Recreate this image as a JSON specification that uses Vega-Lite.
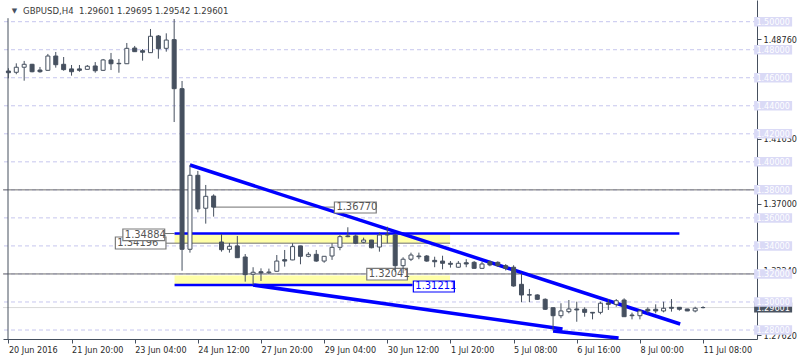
{
  "$schema": "https://vega.github.io/schema/vega-lite/v6.json",
  "width": 754,
  "height": 339,
  "autosize": {"type": "none"},
  "padding": {"left": 3, "top": 0, "right": 43, "bottom": 21},
  "background": "white",
  "config": {"view": {"stroke": null}, "font": "DejaVu Sans Condensed, Liberation Sans Narrow, Liberation Sans"},
  "datasets": {
    "candles": [
      {"i":0,"o":1.4648,"h":1.4668,"l":1.4596,"c":1.4636},
      {"i":1,"o":1.4639,"h":1.4703,"l":1.4625,"c":1.4675},
      {"i":2,"o":1.4675,"h":1.4720,"l":1.4579,"c":1.4696},
      {"i":3,"o":1.4696,"h":1.4699,"l":1.4639,"c":1.4643},
      {"i":4,"o":1.4655,"h":1.4677,"l":1.4636,"c":1.4643},
      {"i":5,"o":1.4653,"h":1.4770,"l":1.4650,"c":1.4755},
      {"i":6,"o":1.4755,"h":1.4784,"l":1.4672,"c":1.4693},
      {"i":7,"o":1.4696,"h":1.4748,"l":1.4650,"c":1.4658},
      {"i":8,"o":1.4663,"h":1.4691,"l":1.4615,"c":1.4643},
      {"i":9,"o":1.4663,"h":1.4691,"l":1.4643,"c":1.4653},
      {"i":10,"o":1.4660,"h":1.4691,"l":1.4659,"c":1.4682},
      {"i":11,"o":1.4684,"h":1.4712,"l":1.4636,"c":1.4650},
      {"i":12,"o":1.4653,"h":1.4734,"l":1.4648,"c":1.4727},
      {"i":13,"o":1.4727,"h":1.4777,"l":1.4655,"c":1.4700},
      {"i":14,"o":1.4703,"h":1.4734,"l":1.4636,"c":1.4700},
      {"i":15,"o":1.4700,"h":1.4848,"l":1.4699,"c":1.4810},
      {"i":16,"o":1.4812,"h":1.4827,"l":1.4785,"c":1.4786},
      {"i":17,"o":1.4793,"h":1.4805,"l":1.4722,"c":1.4782},
      {"i":18,"o":1.4779,"h":1.4948,"l":1.4777,"c":1.4896},
      {"i":19,"o":1.4898,"h":1.4905,"l":1.4736,"c":1.4807},
      {"i":20,"o":1.4810,"h":1.4917,"l":1.4786,"c":1.4869},
      {"i":21,"o":1.4872,"h":1.5019,"l":1.4284,"c":1.4522},
      {"i":22,"o":1.4522,"h":1.4577,"l":1.3223,"c":1.3376},
      {"i":23,"o":1.3376,"h":1.3978,"l":1.3352,"c":1.3904},
      {"i":24,"o":1.3904,"h":1.3935,"l":1.3640,"c":1.3664},
      {"i":25,"o":1.3669,"h":1.3835,"l":1.3559,"c":1.3754},
      {"i":26,"o":1.3756,"h":1.3768,"l":1.3609,"c":1.3677},
      {"i":27,"o":1.3428,"h":1.3485,"l":1.3359,"c":1.3373},
      {"i":28,"o":1.3376,"h":1.3421,"l":1.3352,"c":1.3397},
      {"i":29,"o":1.3400,"h":1.3471,"l":1.3315,"c":1.3316},
      {"i":30,"o":1.3321,"h":1.3342,"l":1.3145,"c":1.3195},
      {"i":31,"o":1.3198,"h":1.3248,"l":1.3121,"c":1.3212},
      {"i":32,"o":1.3216,"h":1.3240,"l":1.3150,"c":1.3207},
      {"i":33,"o":1.3209,"h":1.3238,"l":1.3200,"c":1.3214},
      {"i":34,"o":1.3219,"h":1.3335,"l":1.3217,"c":1.3292},
      {"i":35,"o":1.3302,"h":1.3371,"l":1.3252,"c":1.3292},
      {"i":36,"o":1.3300,"h":1.3419,"l":1.3298,"c":1.3395},
      {"i":37,"o":1.3400,"h":1.3401,"l":1.3269,"c":1.3326},
      {"i":38,"o":1.3326,"h":1.3355,"l":1.3319,"c":1.3340},
      {"i":39,"o":1.3340,"h":1.3371,"l":1.3287,"c":1.3292},
      {"i":40,"o":1.3292,"h":1.3327,"l":1.3280,"c":1.3326},
      {"i":41,"o":1.3328,"h":1.3419,"l":1.3300,"c":1.3390},
      {"i":42,"o":1.3390,"h":1.3478,"l":1.3369,"c":1.3466},
      {"i":43,"o":1.3471,"h":1.3533,"l":1.3462,"c":1.3466},
      {"i":44,"o":1.3471,"h":1.3483,"l":1.3412,"c":1.3419},
      {"i":45,"o":1.3426,"h":1.3459,"l":1.3419,"c":1.3442},
      {"i":46,"o":1.3442,"h":1.3443,"l":1.3383,"c":1.3387},
      {"i":47,"o":1.3392,"h":1.3497,"l":1.3359,"c":1.3478},
      {"i":48,"o":1.3483,"h":1.3537,"l":1.3419,"c":1.3478},
      {"i":49,"o":1.3478,"h":1.3488,"l":1.3215,"c":1.3259},
      {"i":50,"o":1.3259,"h":1.3319,"l":1.32041,"c":1.3305},
      {"i":51,"o":1.3305,"h":1.3352,"l":1.3292,"c":1.3335},
      {"i":52,"o":1.3323,"h":1.3352,"l":1.3305,"c":1.3328},
      {"i":53,"o":1.3328,"h":1.3335,"l":1.3287,"c":1.3292},
      {"i":54,"o":1.3297,"h":1.3323,"l":1.3248,"c":1.3287},
      {"i":55,"o":1.3292,"h":1.3330,"l":1.3233,"c":1.3276},
      {"i":56,"o":1.3276,"h":1.3292,"l":1.3245,"c":1.3269},
      {"i":57,"o":1.3248,"h":1.3292,"l":1.3245,"c":1.3276},
      {"i":58,"o":1.3280,"h":1.3305,"l":1.3248,"c":1.3271},
      {"i":59,"o":1.3283,"h":1.3292,"l":1.3239,"c":1.3240},
      {"i":60,"o":1.3240,"h":1.3287,"l":1.3235,"c":1.3271},
      {"i":61,"o":1.3287,"h":1.3295,"l":1.3255,"c":1.3264},
      {"i":62,"o":1.3283,"h":1.3290,"l":1.3250,"c":1.3259},
      {"i":63,"o":1.3259,"h":1.3270,"l":1.3225,"c":1.3240},
      {"i":64,"o":1.3248,"h":1.3262,"l":1.3109,"c":1.3114},
      {"i":65,"o":1.3126,"h":1.3205,"l":1.2998,"c":1.3050},
      {"i":66,"o":1.3052,"h":1.3093,"l":1.2999,"c":1.3049},
      {"i":67,"o":1.3050,"h":1.3055,"l":1.3014,"c":1.3019},
      {"i":68,"o":1.3019,"h":1.3026,"l":1.2943,"c":1.2948},
      {"i":69,"o":1.2959,"h":1.2962,"l":1.2796,"c":1.2902},
      {"i":70,"o":1.2902,"h":1.2991,"l":1.2884,"c":1.2936},
      {"i":71,"o":1.2931,"h":1.3014,"l":1.2919,"c":1.2950},
      {"i":72,"o":1.2950,"h":1.3002,"l":1.2859,"c":1.2943},
      {"i":73,"o":1.2948,"h":1.2962,"l":1.2895,"c":1.2926},
      {"i":74,"o":1.2926,"h":1.2928,"l":1.2876,"c":1.2921},
      {"i":75,"o":1.2926,"h":1.3002,"l":1.2912,"c":1.2991},
      {"i":76,"o":1.2993,"h":1.3021,"l":1.2943,"c":1.2983},
      {"i":77,"o":1.2983,"h":1.3021,"l":1.2966,"c":1.3009},
      {"i":78,"o":1.3014,"h":1.3026,"l":1.2894,"c":1.2895},
      {"i":79,"o":1.2907,"h":1.2924,"l":1.2876,"c":1.2902},
      {"i":80,"o":1.2902,"h":1.2948,"l":1.2876,"c":1.2936},
      {"i":81,"o":1.2948,"h":1.2962,"l":1.2919,"c":1.2936},
      {"i":82,"o":1.2948,"h":1.2983,"l":1.2919,"c":1.2936},
      {"i":83,"o":1.2936,"h":1.3002,"l":1.2926,"c":1.2955},
      {"i":84,"o":1.2962,"h":1.3021,"l":1.2931,"c":1.2955},
      {"i":85,"o":1.2962,"h":1.2963,"l":1.2938,"c":1.2948},
      {"i":86,"o":1.2950,"h":1.2951,"l":1.2935,"c":1.2936},
      {"i":87,"o":1.2936,"h":1.2966,"l":1.2926,"c":1.2955},
      {"i":88,"o":1.29601,"h":1.29695,"l":1.29542,"c":1.29601}
    ],
    "zones": [
      {"x1":21.05,"x2":55.95,"y1":1.34884,"y2":1.34196},
      {"x1":21.05,"x2":55.95,"y1":1.3189,"y2":1.3121}
    ],
    "levels": [
      {"v":1.28},{"v":1.30},{"v":1.32},{"v":1.34},{"v":1.36},{"v":1.38},
      {"v":1.40},{"v":1.42},{"v":1.44},{"v":1.46},{"v":1.48},{"v":1.50}
    ],
    "solid": [{"v":1.38},{"v":1.32}],
    "current": [{"v":1.29601}],
    "greylines": [
      {"x1":26,"x2":41.3,"y":1.3677},
      {"x1":19.8,"x2":21.05,"y":1.34884},
      {"x1":19.95,"x2":55.95,"y":1.34196}
    ],
    "bluehoriz": [
      {"x1":21.05,"y1":1.34884,"x2":85,"y2":1.34884},
      {"x1":21.05,"y1":1.31211,"x2":51.2,"y2":1.31211}
    ],
    "bluetrend": [
      {"x1":23,"y1":1.39775,"x2":85.1,"y2":1.28429},
      {"x1":31,"y1":1.31211,"x2":70.2,"y2":1.28072},
      {"x1":69,"y1":1.27929,"x2":77.3,"y2":1.2743}
    ],
    "boxback": [
      {"label":"1.34196","v":1.34208,"x1":13.55,"x2":19.96,"y1":1.34636,"y2":1.3378}
    ],
    "boxes": [
      {"label":"1.34884","v":1.3479,"x1":14.5,"x2":19.8,"y1":1.35206,"y2":1.34373},
      {"label":"1.36770","v":1.36742,"x1":41.3,"x2":46.6,"y1":1.37134,"y2":1.36349},
      {"label":"1.32041","v":1.31986,"x1":45.4,"x2":50.55,"y1":1.32403,"y2":1.31569}
    ],
    "bluebox": [
      {"label":"1.31211","v":1.31105,"x1":51.3,"x2":56.5,"y1":1.31497,"y2":1.30712}
    ],
    "header": [{"t":"GBPUSD,H4\u00a0\u00a01.29601 1.29695 1.29542 1.29601"}]
  },
  "layer": [
    {
      "data": {"name": "zones"},
      "mark": {"type": "rect", "fill": "#ffffa8"},
      "encoding": {
        "x": {"field": "x1", "type": "quantitative",
          "scale": {"domain": [-0.05, 94.2], "nice": false, "zero": false},
          "axis": {"values": [0,8,16,24,32,40,48,56,64,72,80,88],
            "labelExpr": "['20 Jun 2016','21 Jun 20:00','23 Jun 04:00','24 Jun 12:00','27 Jun 20:00','29 Jun 04:00','30 Jun 12:00','1 Jul 20:00','5 Jul 08:00','6 Jul 16:00','8 Jul 00:00','11 Jul 08:00'][round(datum.value/8)]",
            "labelAlign": "left", "labelPadding": 2, "tickSize": 4, "labelFontSize": 9,
            "labelColor": "#2a2a2a", "domainColor": "#46505f", "tickColor": "#46505f",
            "labelFlush": false, "labelOverlap": false, "labelBound": false, "grid": false, "title": null}},
        "x2": {"field": "x2"},
        "y": {"field": "y1", "type": "quantitative",
          "scale": {"domain": [1.27358, 1.51548], "nice": false, "zero": false},
          "axis": {"orient": "right", "values": [1.5114, 1.4876, 1.4638, 1.4163, 1.3938, 1.37, 1.3462, 1.3224, 1.2986, 1.2762],
            "format": ".5f", "labelFontSize": 9, "labelColor": "#2a2a2a", "labelPadding": 2, "tickSize": 4,
            "domainColor": "#46505f", "tickColor": "#46505f", "labelFlush": false, "labelOverlap": false,
            "labelBaseline": "middle", "grid": false, "title": null}},
        "y2": {"field": "y2"}
      }
    },
    {
      "data": {"name": "levels"},
      "mark": {"type": "rule", "color": "#c6c6ee", "strokeDash": [4, 3], "strokeWidth": 1},
      "encoding": {"y": {"field": "v", "type": "quantitative"}}
    },
    {
      "data": {"name": "solid"},
      "mark": {"type": "rule", "color": "#6e6e6e", "strokeWidth": 1},
      "encoding": {"y": {"field": "v", "type": "quantitative"}}
    },
    {
      "data": {"name": "current"},
      "mark": {"type": "rule", "color": "#d9d9d9", "strokeWidth": 1},
      "encoding": {"y": {"field": "v", "type": "quantitative"}}
    },
    {
      "data": {"name": "greylines"},
      "mark": {"type": "rule", "color": "#707070", "strokeWidth": 1},
      "encoding": {
        "x": {"field": "x1", "type": "quantitative"},
        "x2": {"field": "x2"},
        "y": {"field": "y", "type": "quantitative"}
      }
    },
    {
      "data": {"name": "bluehoriz"},
      "mark": {"type": "rule", "color": "#0000ff", "strokeWidth": 2.5},
      "encoding": {
        "x": {"field": "x1", "type": "quantitative"},
        "x2": {"field": "x2"},
        "y": {"field": "y1", "type": "quantitative"},
        "y2": {"field": "y2"}
      }
    },
    {
      "data": {"name": "bluetrend"},
      "mark": {"type": "rule", "color": "#0000ff", "strokeWidth": 3.5},
      "encoding": {
        "x": {"field": "x1", "type": "quantitative"},
        "x2": {"field": "x2"},
        "y": {"field": "y1", "type": "quantitative"},
        "y2": {"field": "y2"}
      }
    },
    {
      "data": {"name": "boxback"},
      "mark": {"type": "rect", "fill": "white", "stroke": "#7a7a7a", "strokeWidth": 1.2},
      "encoding": {
        "x": {"field": "x1", "type": "quantitative"}, "x2": {"field": "x2"},
        "y": {"field": "y1", "type": "quantitative"}, "y2": {"field": "y2"}
      }
    },
    {
      "data": {"name": "boxback"},
      "mark": {"type": "text", "align": "left", "baseline": "middle", "dx": 2, "fontSize": 11, "color": "#555555"},
      "encoding": {
        "x": {"field": "x1", "type": "quantitative"},
        "y": {"field": "v", "type": "quantitative"},
        "text": {"field": "label"}
      }
    },
    {
      "data": {"name": "boxes"},
      "mark": {"type": "rect", "fill": "white", "stroke": "#7a7a7a", "strokeWidth": 1.2},
      "encoding": {
        "x": {"field": "x1", "type": "quantitative"}, "x2": {"field": "x2"},
        "y": {"field": "y1", "type": "quantitative"}, "y2": {"field": "y2"}
      }
    },
    {
      "data": {"name": "boxes"},
      "mark": {"type": "text", "align": "left", "baseline": "middle", "dx": 2, "fontSize": 11, "color": "#555555"},
      "encoding": {
        "x": {"field": "x1", "type": "quantitative"},
        "y": {"field": "v", "type": "quantitative"},
        "text": {"field": "label"}
      }
    },
    {
      "data": {"name": "bluebox"},
      "mark": {"type": "rect", "fill": "white", "stroke": "#0000ff", "strokeWidth": 1.2},
      "encoding": {
        "x": {"field": "x1", "type": "quantitative"}, "x2": {"field": "x2"},
        "y": {"field": "y1", "type": "quantitative"}, "y2": {"field": "y2"}
      }
    },
    {
      "data": {"name": "bluebox"},
      "mark": {"type": "text", "align": "left", "baseline": "middle", "dx": 2, "fontSize": 11, "color": "#0000ff"},
      "encoding": {
        "x": {"field": "x1", "type": "quantitative"},
        "y": {"field": "v", "type": "quantitative"},
        "text": {"field": "label"}
      }
    },
    {
      "data": {"name": "candles"},
      "mark": {"type": "rule", "color": "#46505f", "strokeWidth": 1},
      "encoding": {
        "x": {"field": "i", "type": "quantitative"},
        "y": {"field": "l", "type": "quantitative"},
        "y2": {"field": "h"}
      }
    },
    {
      "data": {"name": "candles"},
      "mark": {"type": "bar", "size": 4, "stroke": "#46505f", "strokeWidth": 1},
      "encoding": {
        "x": {"field": "i", "type": "quantitative"},
        "y": {"field": "o", "type": "quantitative"},
        "y2": {"field": "c"},
        "fill": {"condition": {"test": "datum.c >= datum.o", "value": "white"}, "value": "#46505f"}
      }
    },
    {
      "data": {"name": "current"},
      "mark": {"type": "tick", "orient": "horizontal", "size": 38, "thickness": 10, "color": "#4a5361", "opacity": 1},
      "encoding": {
        "x": {"datum": 96.875, "type": "quantitative"},
        "y": {"field": "v", "type": "quantitative"}
      }
    },
    {
      "data": {"name": "current"},
      "mark": {"type": "text", "align": "center", "baseline": "middle", "fontSize": 9, "color": "white"},
      "encoding": {
        "x": {"datum": 96.875, "type": "quantitative"},
        "y": {"field": "v", "type": "quantitative"},
        "text": {"field": "v", "type": "quantitative", "format": ".5f"}
      }
    },
    {
      "data": {"name": "levels"},
      "mark": {"type": "tick", "orient": "horizontal", "size": 38, "thickness": 9.5, "color": "#dadaf6", "opacity": 1},
      "encoding": {
        "x": {"datum": 96.875, "type": "quantitative"},
        "y": {"field": "v", "type": "quantitative"}
      }
    },
    {
      "data": {"name": "levels"},
      "mark": {"type": "text", "align": "center", "baseline": "middle", "fontSize": 9, "color": "white"},
      "encoding": {
        "x": {"datum": 96.875, "type": "quantitative"},
        "y": {"field": "v", "type": "quantitative"},
        "text": {"field": "v", "type": "quantitative", "format": ".5f"}
      }
    },
    {
      "data": {"name": "header"},
      "mark": {"type": "text", "align": "left", "baseline": "middle", "fontSize": 9.5, "color": "#3a3a3a"},
      "encoding": {
        "x": {"datum": 1.86, "type": "quantitative"},
        "y": {"datum": 1.5076, "type": "quantitative"},
        "text": {"field": "t"}
      }
    },
    {
      "data": {"name": "header"},
      "mark": {"type": "text", "align": "center", "baseline": "middle", "fontSize": 7, "font": "DejaVu Sans", "color": "#46505f", "text": "▼"},
      "encoding": {
        "x": {"datum": 0.75, "type": "quantitative"},
        "y": {"datum": 1.5076, "type": "quantitative"}
      }
    },
    {
      "data": {"name": "header"},
      "mark": {"type": "rule", "color": "#46505f", "strokeWidth": 1},
      "encoding": {
        "x": {"datum": -0.05, "type": "quantitative"},
        "y": {"datum": 1.5025, "type": "quantitative"},
        "y2": {"datum": 1.27358}
      }
    }
  ]
}
